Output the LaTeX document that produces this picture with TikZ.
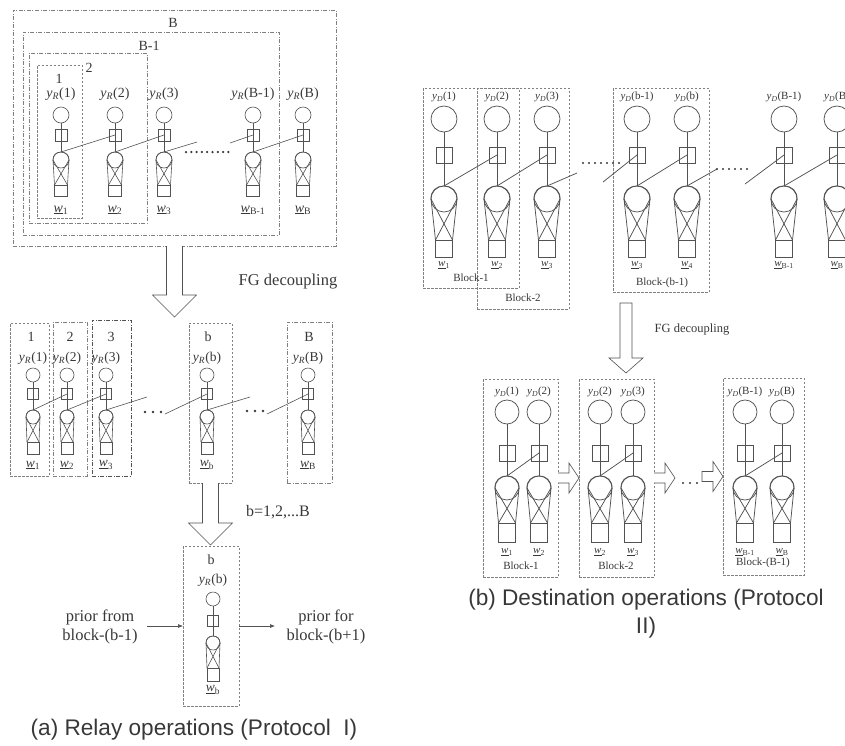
\documentclass[tikz,border=0pt]{standalone}
\usepackage{fontspec}
\setmainfont{Liberation Serif}
\newfontfamily\capfont{Liberation Sans}
\usetikzlibrary{arrows.meta,fit,calc}
\definecolor{lc}{gray}{0.32}
\definecolor{tc}{gray}{0.22}
\definecolor{bc}{gray}{0.5}
\newcommand\yR[1]{\textit{y}\textsubscript{\textit{R}}(#1)}
\newcommand\yD[1]{\textit{y}\textsubscript{\textit{D}}(#1)}
\newcommand\wu[1]{\underline{\textit{w}}\textsubscript{#1}}
\tikzset{
 elR/.store in=\elR, elS/.store in=\elS, elA/.store in=\elA, elB/.store in=\elB,
 elC/.store in=\elC, elD/.store in=\elD, elW/.store in=\elW, elY/.store in=\elY,
 elL/.store in=\elL, elF/.store in=\elF,
 ln/.style={draw=lc, line width=0.6pt},
 vnode/.style={circle, draw=lc, line width=0.6pt, inner sep=0pt, outer sep=0pt},
 fnode/.style={rectangle, draw=lc, line width=0.6pt, inner sep=0pt, outer sep=0pt},
 lab/.style={text=tc, inner sep=0pt, font=\fontsize{\elF}{\elF}\selectfont},
 txt/.style={text=tc, inner sep=0pt},
 dbox/.style={draw=bc, line width=0.6pt, dash pattern=on 2.5pt off 1.5pt, inner sep=0pt, outer sep=0pt},
 ddbox/.style={draw=bc, line width=0.6pt, dash pattern=on 4pt off 1.5pt on 1pt off 1.5pt, inner sep=0pt, outer sep=0pt},
 harrow/.style={draw=lc, fill=white, line width=0.6pt},
 dots/.style={draw=tc, line cap=round},
 pics/elem/.style 2 args={code={
   \node[vnode, minimum size=2*\elR] (-v) at (0,0) {};
   \node[vnode, minimum size=2*\elR] (-c) at (0,\elB) {};
   \draw[ln] (-v.south) -- (-c.north);
   \node[fnode, minimum size=\elS] (-f) at (0,\elA) {};
   \node[fnode, minimum width=\elW, minimum height=\elD, anchor=north] (-s) at (0,\elC) {};
   \draw[ln] (-c.north) to[out=181,in=92,looseness=1.12] (-c.west) -- (-s.north west);
   \draw[ln] (-c.north) to[out=-1,in=88,looseness=1.12] (-c.east) -- (-s.north east);
   \draw[ln] (-c.west) -- (-s.north east);
   \draw[ln] (-c.east) -- (-s.north west);
   \node[lab] (-y) at (0,\elY) {#1};
   \node[lab] (-w) at (0,\elL) {#2};
 }},
}
\begin{document}
\begin{tikzpicture}[x=1pt,y=-1pt]
\useasboundingbox (0,0) rectangle (845,745);

% ================= (a) top =================
\node[ddbox, fit={(13,10) (336,246)}] (boxB) {};
\node[ddbox, fit={(23,32) (279,235)}] (boxBm) {};
\node[ddbox, fit={(29,53) (147,223)}] (box2) {};
\node[dbox, fit={(37,65) (82,218)}] (box1) {};
\node[txt, font=\fontsize{14}{14}\selectfont] (lB) at (173,23) {B};
\node[txt, font=\fontsize{14}{14}\selectfont] (lBm) at (149,46) {B-1};
\node[txt, font=\fontsize{14}{14}\selectfont] (l2) at (89,68) {2};
\node[txt, font=\fontsize{14}{14}\selectfont] (l1) at (59,79) {1};
\begin{scope}[elR=8, elS=12, elA=20, elB=45, elC=70, elD=11, elW=13, elY=-21, elL=95, elF=14]
\pic (a1) at (61,115) {elem={\yR{1}}{\wu{1}}};
\pic (a2) at (115,115) {elem={\yR{2}}{\wu{2}}};
\pic (a3) at (164,115) {elem={\yR{3}}{\wu{3}}};
\pic (a4) at (253,115) {elem={\yR{B-1}}{\wu{B-1}}};
\pic (a5) at (303,115) {elem={\yR{B}}{\wu{B}}};
\end{scope}
\coordinate (fa1) at (197,142);
\coordinate (fa2) at (230,143);
\draw[ln] (a1-c.north) -- (a2-f.center);
\draw[ln] (a2-c.north) -- (a3-f.center);
\draw[ln] (a3-c.north) -- (fa1);
\draw[ln] (fa2) -- (a4-f.center);
\draw[ln] (a4-c.north) -- (a5-f.center);
\draw[dots, line width=2.5pt, dash pattern=on 0pt off 5.3pt] (186,152) -- (229,152);

\begin{scope}[shift={(boxB.south)}]
\draw[harrow] (-8,0) -- (-8,49) -- (-22,49) -- (0,71) -- (22,49) -- (8,49) -- (8,0);
\end{scope}
\node[txt, font=\fontsize{16.5}{16.5}\selectfont] (fga) at (288,282) {FG decoupling};

% ================= (a) middle =================
\node[dbox, fit={(10,323) (49,476)}] (mb1) {};
\node[ddbox, fit={(53,322) (87,476)}] (mb2) {};
\node[ddbox, draw=lc, fit={(92,320) (131,476)}] (mb3) {};
\node[dbox, fit={(189,323) (232,483)}] (mbb) {};
\node[ddbox, fit={(287,322) (332,483)}] (mbB) {};
\node[txt, font=\fontsize{14}{14}\selectfont] (n1) at (31,337) {1};
\node[txt, font=\fontsize{14}{14}\selectfont] (n2) at (70,337) {2};
\node[txt, font=\fontsize{14}{14}\selectfont] (n3) at (111,337) {3};
\node[txt, font=\fontsize{14}{14}\selectfont] (nb) at (208,337) {b};
\node[txt, font=\fontsize{14}{14}\selectfont] (nB) at (309,337) {B};
\begin{scope}[elR=7, elS=10.5, elA=19, elB=42, elC=67, elD=12, elW=12, elY=-17, elL=90, elF=13.5]
\pic (m1) at (33,375) {elem={\yR{1}}{\wu{1}}};
\pic (m2) at (67,375) {elem={\yR{2}}{\wu{2}}};
\pic (m3) at (106,375) {elem={\yR{3}}{\wu{3}}};
\pic (m4) at (207,375) {elem={\yR{b}}{\wu{b}}};
\pic (m5) at (308,375) {elem={\yR{B}}{\wu{B}}};
\end{scope}
\coordinate (fm1) at (147,397);
\coordinate (fm2) at (165,414);
\coordinate (fm3) at (250,397);
\coordinate (fm4) at (267,414);
\draw[ln] (m1-c.north) -- (m2-f.center);
\draw[ln] (m2-c.north) -- (m3-f.center);
\draw[ln] (m3-c.north) -- (fm1);
\draw[ln] (fm2) -- (m4-f.center);
\draw[ln] (m4-c.north) -- (fm3);
\draw[ln] (fm4) -- (m5-f.center);
\draw[dots, line width=2.6pt, dash pattern=on 0pt off 8pt] (145,412) -- (161,412);
\draw[dots, line width=2.6pt, dash pattern=on 0pt off 8pt] (247,411) -- (263,411);

\begin{scope}[shift={(mbb.south)}]
\draw[harrow] (-8,0) -- (-8,40) -- (-22,40) -- (0,62) -- (22,40) -- (8,40) -- (8,0);
\end{scope}
\node[txt, font=\fontsize{16}{16}\selectfont] (bset) at (278,512) {b=1,2,...B};

% ================= (a) bottom =================
\node[dbox, fit={(183,546) (239,706)}] (bbox) {};
\node[txt, font=\fontsize{14}{14}\selectfont] (nbb) at (211,560) {b};
\begin{scope}[elR=7, elS=11, elA=22, elB=44, elC=69, elD=13, elW=12, elY=-19, elL=91, elF=13.5]
\pic (bb1) at (213,599) {elem={\yR{b}}{\wu{b}}};
\end{scope}
\node[txt, align=center, font=\fontsize{16.5}{19}\selectfont] (pf) at (100,627) {prior from\\block-(b-1)};
\node[txt, align=center, font=\fontsize{16.5}{19}\selectfont] (pt) at (326,627) {prior for\\block-(b+1)};
\draw[draw=lc, line width=0.6pt, -{Latex[length=5pt,width=4pt]}] (147,626) -- (bbox.west |- 0,626);
\draw[draw=lc, line width=0.6pt, -{Latex[length=5pt,width=4pt]}] (bbox.east |- 0,626) -- (275,626);
\node[txt, font=\capfont\fontsize{22.6}{22.6}\selectfont] (capa) at (194,730) {(a) Relay operations (Protocol\ \ I)};

% ================= (b) top =================
\node[dbox, fit={(423,88) (519,288)}] (blk1) {};
\node[dbox, fit={(477,88) (569,309)}] (blk2) {};
\node[dbox, fit={(613,88) (709,292)}] (blkb) {};
\node[txt, font=\fontsize{11}{11}\selectfont] (tb1) at (471,278) {Block-1};
\node[txt, font=\fontsize{11}{11}\selectfont] (tb2) at (523,298) {Block-2};
\node[txt, font=\fontsize{11}{11}\selectfont] (tb3) at (662,283) {Block-(b-1)};
\begin{scope}[elR=13, elS=16, elA=36, elB=80, elC=121, elD=17, elW=17, elY=-22, elL=146, elF=11,
  ln/.append style={line width=0.75pt}, vnode/.append style={line width=0.75pt}, fnode/.append style={line width=0.75pt}]
\pic (t1) at (444,119) {elem={\yD{1}}{\wu{1}}};
\pic (t2) at (497,119) {elem={\yD{2}}{\wu{2}}};
\pic (t3) at (547,119) {elem={\yD{3}}{\wu{3}}};
\pic (t4) at (637,119) {elem={\yD{b-1}}{\wu{3}}};
\pic (t5) at (687,119) {elem={\yD{b}}{\wu{4}}};
\pic (t6) at (784,119) {elem={\yD{B-1}}{\wu{B-1}}};
\pic (t7) at (837,119) {elem={\yD{B}}{\wu{B}}};
\coordinate (ft1) at (577,173);
\coordinate (ft2) at (603,182);
\coordinate (ft3) at (717,169);
\coordinate (ft4) at (745,184);
\draw[ln] (t1-c.north) -- (t2-f.center);
\draw[ln] (t2-c.north) -- (t3-f.center);
\draw[ln] (t3-c.north) -- (ft1);
\draw[ln] (ft2) -- (t4-f.center);
\draw[ln] (t4-c.north) -- (t5-f.center);
\draw[ln] (t5-c.north) -- (ft3);
\draw[ln] (ft4) -- (t6-f.center);
\draw[ln] (t6-c.north) -- (t7-f.center);
\end{scope}
\draw[dots, line width=2.2pt, dash pattern=on 0pt off 6pt] (583,163) -- (619,163);
\draw[dots, line width=2.2pt, dash pattern=on 0pt off 6pt] (717,169) -- (747,169);

\begin{scope}[shift={(626,303)}]
\draw[harrow] (-6,0) -- (-6,55) -- (-17,55) -- (0,70) -- (17,55) -- (6,55) -- (6,0) -- cycle;
\end{scope}
\node[txt, font=\fontsize{12.5}{12.5}\selectfont] (fgb) at (692,330) {FG decoupling};

% ================= (b) bottom =================
\node[dbox, fit={(483,379) (558,577)}] (c1) {};
\node[dbox, fit={(579,379) (654,577)}] (c2) {};
\node[dbox, fit={(723,378) (804,575)}] (c3) {};
\node[txt, font=\fontsize{11}{11}\selectfont] (cb1) at (521,566) {Block-1};
\node[txt, font=\fontsize{11}{11}\selectfont] (cb2) at (616,566) {Block-2};
\node[txt, font=\fontsize{11}{11}\selectfont] (cb3) at (763,563) {Block-(B-1)};
\begin{scope}[elR=12, elS=16, elA=41, elB=76, elC=111, elD=19, elW=17, elY=-20, elL=140, elF=11,
  ln/.append style={line width=0.75pt}, vnode/.append style={line width=0.75pt}, fnode/.append style={line width=0.75pt}]
\pic (u1) at (507,412) {elem={\yD{1}}{\wu{1}}};
\pic (u2) at (539,412) {elem={\yD{2}}{\wu{2}}};
\pic (u3) at (600,412) {elem={\yD{2}}{\wu{2}}};
\pic (u4) at (633,412) {elem={\yD{3}}{\wu{3}}};
\pic (u5) at (745,412) {elem={\yD{B-1}}{\wu{B-1}}};
\pic (u6) at (782,412) {elem={\yD{B}}{\wu{B}}};
\draw[ln] (u1-c.north) -- (u2-f.center);
\draw[ln] (u3-c.north) -- (u4-f.center);
\draw[ln] (u5-c.north) -- (u6-f.center);
\end{scope}
\begin{scope}[shift={(c1.east)}]
\draw[harrow] (0,-5) -- (11,-5) -- (11,-15) -- (21,0) -- (11,15) -- (11,5) -- (0,5);
\end{scope}
\begin{scope}[shift={(c2.east)}]
\draw[harrow] (0,-5) -- (11,-5) -- (11,-15) -- (21,0) -- (11,15) -- (11,5) -- (0,5);
\end{scope}
\begin{scope}[shift={($(c3.west)+(-21,0)$)}]
\draw[harrow] (0,-5) -- (11,-5) -- (11,-15) -- (21,0) -- (11,15) -- (11,5) -- (0,5) -- cycle;
\end{scope}
\draw[dots, line width=2.2pt, dash pattern=on 0pt off 7pt] (683,483) -- (697,483);

\node[txt, font=\capfont\fontsize{22.6}{22.6}\selectfont] (capb1) at (646,600) {(b) Destination operations (Protocol};
\node[txt, font=\capfont\fontsize{22.6}{22.6}\selectfont] (capb2) at (646,628) {II)};
\end{tikzpicture}
\end{document}
